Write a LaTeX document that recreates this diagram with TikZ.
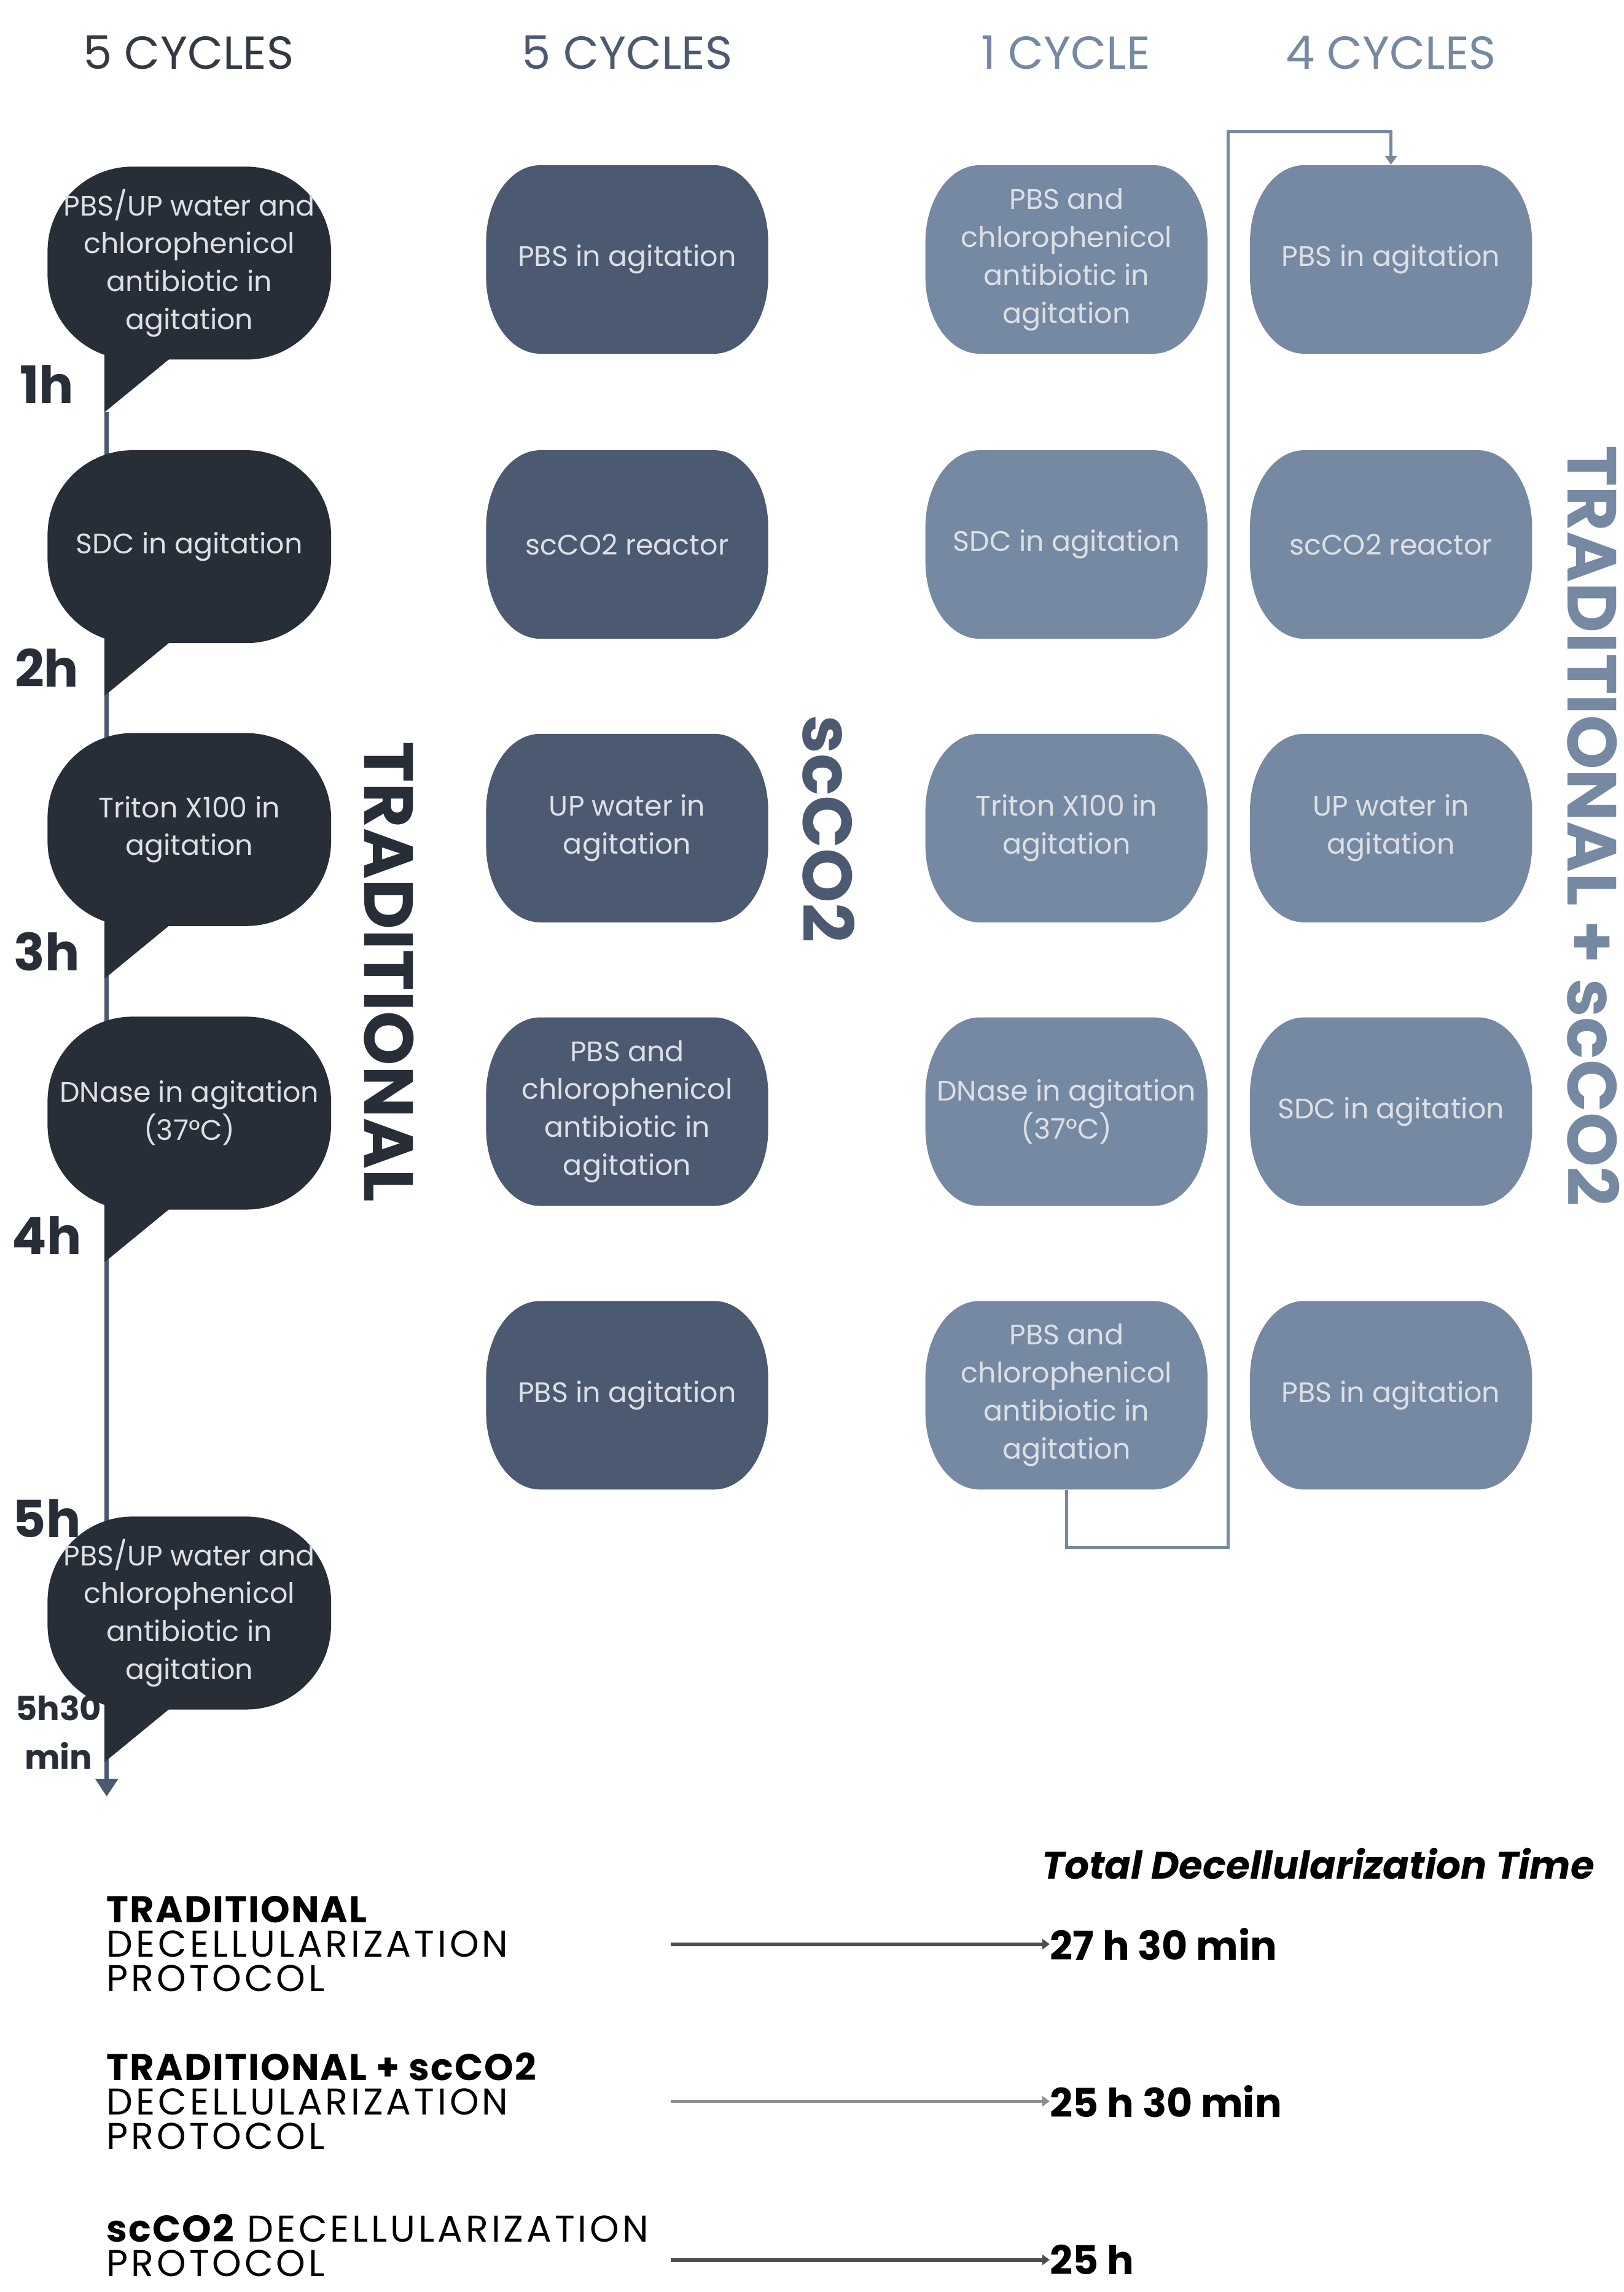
\documentclass[tikz,border=0pt]{standalone}
\usepackage{fontspec}
\setmainfont{Poppins}
\usetikzlibrary{arrows.meta}

\definecolor{trad}{HTML}{272E38}
\definecolor{scco}{HTML}{4B5A70}
\definecolor{mixc}{HTML}{7689A2}
\definecolor{hdr}{HTML}{343A44}
\definecolor{boxtxt}{HTML}{DCE0E5}
\definecolor{tline}{HTML}{4A5870}
\definecolor{arwdark}{HTML}{4D4D4D}
\definecolor{arwlight}{HTML}{8E8E8E}

\tikzset{
    header/.style={font=\fontsize{18}{20}\selectfont},
    bubbletxt/.style={align=center, inner sep=0pt, text=boxtxt, font=\fontsize{11}{14.8}\selectfont},
    stepbox/.style={bubbletxt, minimum width=3.86cm, minimum height=2.58cm},
    hourlbl/.style={text=trad, font=\bfseries\fontsize{20}{22}\selectfont},
    sidelbl/.style={rotate=-90, font=\bfseries\fontsize{27}{30}\selectfont},
    protolbl/.style={anchor=west, align=left, inner sep=0pt, text=black,
        font=\fontsize{14.5}{13.4}\selectfont\addfontfeatures{LetterSpace=8}},
    totallbl/.style={anchor=west, inner sep=0pt, text=black, font=\bfseries\fontsize{15.5}{18}\selectfont},
    timeline/.style={tline, line width=1.6pt, -{Triangle[width=0.3cm,length=0.24cm]}},
    loopline/.style={mixc, line width=1.1pt, -{Triangle[width=0.16cm,length=0.12cm]}},
    totalarrow/.style={line width=1.4pt, -{Triangle[width=0.14cm,length=0.1cm]}},
}

% bold part of a protocol name
\newcommand\protobf[1]{{\bfseries\addfontfeatures{LetterSpace=3.5}#1}}

% barrel shaped box, centre x, centre y, colour
\newcommand\barrel[3]{%
    \fill[#3, shift={(#1,#2)}, x=1cm, y=1cm]
        (-1.19,1.29) -- (1.19,1.29)
        arc[start angle=90, end angle=0, x radius=0.74, y radius=1.05]
        -- (1.93,-0.24)
        arc[start angle=0, end angle=-90, x radius=0.74, y radius=1.05]
        -- (-1.19,-1.29)
        arc[start angle=270, end angle=180, x radius=0.74, y radius=1.05]
        -- (-1.93,0.24)
        arc[start angle=180, end angle=90, x radius=0.74, y radius=1.05]
        -- cycle;
}
% speech bubble of the traditional column, centre y
\newcommand\bubble[1]{%
    \fill[trad, shift={(129.5,#1)}, x=1cm, y=1cm, rounded corners=1.16cm] (-1.94,-1.32) rectangle (1.94,1.32);
    \fill[trad, shift={(129.5,#1)}] (-58,40) -- (-58,102) -- (-13.5,65.5) -- (-13.5,40) -- cycle;
}

\begin{document}
\begin{tikzpicture}[x=0.02cm, y=-0.02cm]
    \useasboundingbox (0,0) rectangle (1110.5,1568);

    % column headers
    \node[header, text=hdr] (h1) at (129,36) {5 CYCLES};
    \node[header, text=scco] (h2) at (429,36) {5 CYCLES};
    \node[header, text=mixc] (h3) at (729,36) {1 CYCLE};
    \node[header, text=mixc] (h4) at (951.5,36) {4 CYCLES};

    % time line, behind the bubbles
    \coordinate (tstart) at (73,282);
    \coordinate (tend) at (73,1229);
    \draw[timeline] (tstart) -- (tend);

    % traditional
    \foreach \n/\y/\t in {1/180/{PBS/UP water and\\chlorophenicol\\antibiotic in\\agitation},
        2/374/SDC in agitation, 3/567.5/{Triton X100 in\\agitation},
        4/761.5/{DNase in agitation\\(37°C)},
        5/1103.5/{PBS/UP water and\\chlorophenicol\\antibiotic in\\agitation}}
    {
        \bubble{\y}
        \node[bubbletxt] (tr\n) at (129.5,\y) {\t};
    }
    \foreach \i in {1,...,5}
        \node[hourlbl] (hr\i) at (32,{263+194*(\i-1)}) {\i h};
    \node[hourlbl, align=center, font=\bfseries\fontsize{13}{19}\selectfont] (hr6) at (40,1185) {5h30\\min};

    % scCO2
    \foreach \n/\y/\t in {1/177.5/PBS in agitation, 2/372.5/scCO2 reactor,
        3/566.5/{UP water in\\agitation},
        4/760.5/{PBS and\\chlorophenicol\\antibiotic in\\agitation},
        5/954.5/PBS in agitation}
    {
        \barrel{429}{\y}{scco}
        \node[stepbox] (sc\n) at (429,\y) {\t};
    }

    % traditional + scCO2, first cycle
    \foreach \n/\y/\t in {1/177.5/{PBS and\\chlorophenicol\\antibiotic in\\agitation},
        2/372.5/SDC in agitation, 3/566.5/{Triton X100 in\\agitation},
        4/760.5/{DNase in agitation\\(37°C)},
        5/954.5/{PBS and\\chlorophenicol\\antibiotic in\\agitation}}
    {
        \barrel{729.5}{\y}{mixc}
        \node[stepbox] (ta\n) at (729.5,\y) {\t};
    }

    % traditional + scCO2, next four cycles
    \foreach \n/\y/\t in {1/177.5/PBS in agitation, 2/372.5/scCO2 reactor,
        3/566.5/{UP water in\\agitation}, 4/760.5/SDC in agitation,
        5/954.5/PBS in agitation}
    {
        \barrel{951.5}{\y}{mixc}
        \node[stepbox] (tb\n) at (951.5,\y) {\t};
    }

    \coordinate (lpa) at (840,1058.5);
    \coordinate (lpb) at (840,90);
    \draw[loopline] (ta5.south) |- (lpa) -- (lpb) -| (tb1.north);

    % protocol names
    \node[sidelbl, text=trad] (ltrad) at (266,665) {TRADITIONAL};
    \node[sidelbl, text=scco] (lsc) at (567,567) {scCO2};
    \node[sidelbl, text=mixc] (lmix) at (1090,565) {TRADITIONAL + scCO2};

    % totals
    \node[anchor=east, inner sep=0pt, font=\bfseries\itshape\fontsize{15}{18}\selectfont] (ttot) at (1091,1275) {Total Decellularization Time};

    \node[protolbl] (p1) at (72.7,1330) {\protobf{TRADITIONAL}\\DECELLULARIZATION\\PROTOCOL};
    \node[protolbl] (p2) at (72.7,1437.5) {\protobf{TRADITIONAL + scCO2}\\DECELLULARIZATION\\PROTOCOL};
    \node[protolbl] (p3) at (72.7,1536) {\protobf{scCO2} DECELLULARIZATION\\PROTOCOL};

    \node[totallbl] (tm1) at (718,1330) {27 h 30 min};
    \node[totallbl] (tm2) at (718,1437.5) {25 h 30 min};
    \node[totallbl] (tm3) at (718,1546) {25 h};

    \coordinate (ta1) at (459,1330);
    \coordinate (ta2) at (459,1437.5);
    \coordinate (ta3) at (459,1546);
    \draw[totalarrow, arwdark] (ta1) -- (tm1.west);
    \draw[totalarrow, arwlight] (ta2) -- (tm2.west);
    \draw[totalarrow, arwdark] (ta3) -- (tm3.west);
\end{tikzpicture}
\end{document}
